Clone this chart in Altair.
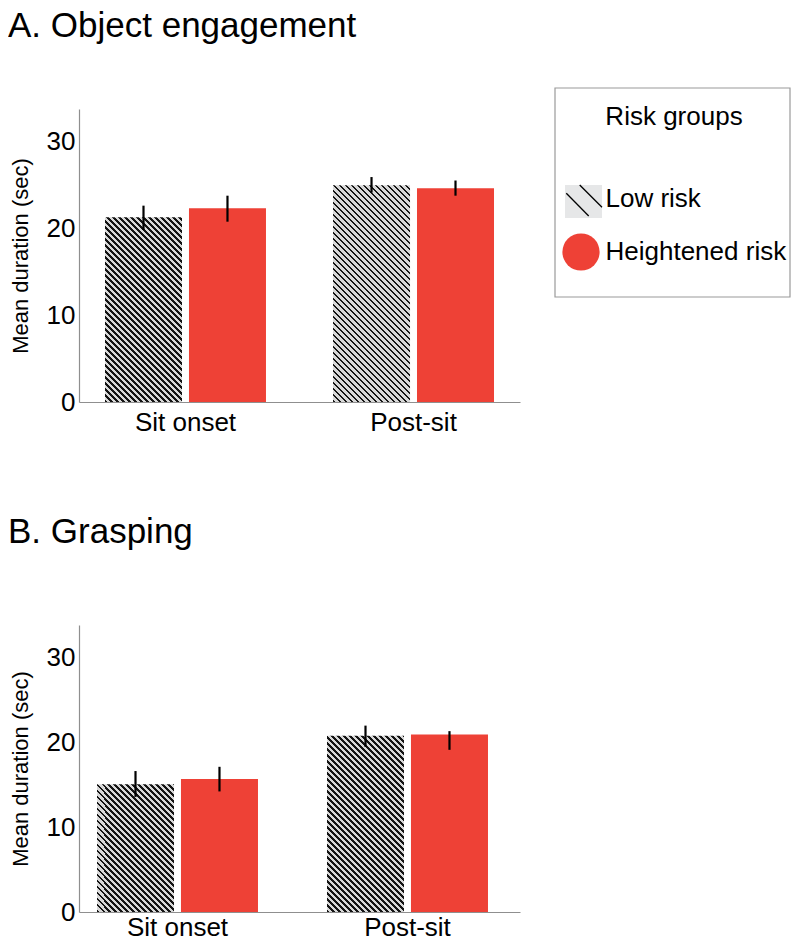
import altair as alt
import pandas as pd

# ---------------- data ----------------
phases = ["Sit onset", "Post-sit"]
groups = ["Low risk", "Heightened risk"]

# order of values: (Sit onset, Low), (Sit onset, Heightened), (Post-sit, Low), (Post-sit, Heightened)
a_mean = [21.3, 22.35, 25.0, 24.65]
a_lo = [19.85, 20.8, 24.15, 23.8]
a_hi = [22.65, 23.8, 25.95, 25.55]

b_mean = [15.05, 15.65, 20.75, 20.9]
b_lo = [13.55, 14.2, 19.45, 19.1]
b_hi = [16.6, 17.1, 21.95, 21.3]

y_ticks = [0, 10, 20, 30]
y_max = 33.8

titles = ["A. Object engagement", "B. Grasping"]
y_title = "Mean duration (sec)"
legend_title = "Risk groups"

# ---------------- style ----------------
FONT = "Liberation Sans"
RED = "#EE4136"
LIGHT = "#d8d8d8"
DARK = "#141414"
AXIS_GRAY = "#8f8f8f"
PLOT_W = 441


def rows(means, lo, hi):
    out = []
    i = 0
    for p in phases:
        for g in groups:
            out.append({"phase": p, "group": g, "mean": means[i], "lo": lo[i], "hi": hi[i]})
            i += 1
    return pd.DataFrame(out)


def bar_width(pi, po, pi2):
    step = PLOT_W / (2 - pi + 2 * po)
    bw = step * (1 - pi)
    step2 = bw / (2 - pi2)
    return step2 * (1 - pi2)


def hatch(W, H, period=6.0, dark=2.8):
    k = (W + H) / (W * W + H * H)
    span = W + H
    stops = []
    c = 0.0
    while c < span:
        a = c / span
        b = min((c + dark) / span, 1.0)
        stops.append({"offset": a, "color": DARK})
        stops.append({"offset": b, "color": DARK})
        if b < 1.0:
            e = min((c + period) / span, 1.0)
            stops.append({"offset": b, "color": LIGHT})
            stops.append({"offset": e, "color": LIGHT})
        c += period
    return {"gradient": "linear", "x1": 0, "y1": 1, "x2": k * W, "y2": 1 - k * H, "stops": stops}


def panel(title, means, lo, hi, pi, po, align, title_y, xlab_pad, plot_h, legend=False):
    df = rows(means, lo, hi)
    pi2 = 0.083
    W = bar_width(pi, po, pi2)
    xsc = alt.Scale(domain=phases, paddingInner=pi, paddingOuter=po, align=align)
    xax = alt.Axis(title=None, labelAngle=0, ticks=False, labelFontSize=26, labelPadding=xlab_pad,
                   labelColor="black", domainColor=AXIS_GRAY, domainWidth=1.2, grid=False)
    osc = alt.Scale(domain=groups, paddingInner=pi2, paddingOuter=0)
    ysc = alt.Scale(domain=[0, y_max], nice=False, zero=True)
    yax = alt.Axis(title=y_title, values=y_ticks, ticks=False, grid=False, labelFontSize=26,
                   labelPadding=4, labelColor="black", domainColor=AXIS_GRAY, domainWidth=1.2,
                   titleFontSize=22, titleFontWeight="normal", titleColor="black",
                   titleX=-59, titleY=plot_h / 2, titleBaseline="middle", titleAngle=-90)

    base = alt.Chart(df).encode(
        x=alt.X("phase:N", scale=xsc, axis=xax),
        xOffset=alt.XOffset("group:N", scale=osc),
        y=alt.Y("mean:Q", scale=ysc, axis=yax),
    )
    layers = [base.transform_filter(alt.datum.group == groups[1]).mark_bar(color=RED)]
    for i, p in enumerate(phases):
        H = means[i * 2] / y_max * plot_h
        layers.append(
            base.transform_filter((alt.datum.group == groups[0]) & (alt.datum.phase == p))
            .mark_bar(fill=hatch(W, H))
        )
    layers.append(
        base.mark_rule(color="black", strokeWidth=2.2).encode(
            y=alt.Y("lo:Q", scale=ysc, axis=yax), y2="hi:Q"
        )
    )
    tdf = pd.DataFrame({"t": [title]})
    layers.append(
        alt.Chart(tdf).mark_text(align="left", baseline="top", fontSize=35, font=FONT, color="black")
        .encode(text="t:N", x=alt.value(-71), y=alt.value(title_y))
    )
    if legend:
        lx = -3  # legend shift so the whole page stays 800 px wide
        one = pd.DataFrame({"t": [legend_title]})
        layers.append(
            alt.Chart(one).mark_rect(fill="white", stroke="#9a9a9a", strokeWidth=1.2)
            .encode(x=alt.value(476), x2=alt.value(711), y=alt.value(-21), y2=alt.value(188))
        )
        layers.append(
            alt.Chart(one).mark_text(align="center", baseline="alphabetic", fontSize=26, font=FONT, color="black")
            .encode(text="t:N", x=alt.value(598 + lx), y=alt.value(16))
        )
        layers.append(
            alt.Chart(one).mark_rect(fill="#e6e7e8")
            .encode(x=alt.value(489 + lx), x2=alt.value(526 + lx), y=alt.value(76), y2=alt.value(109))
        )
        for (x0, y0, x1, y1) in [(490.3, 84.3, 512.7, 107), (503.7, 76, 526, 98.3)]:
            layers.append(
                alt.Chart(one).mark_rule(color="black", strokeWidth=1.3)
                .encode(x=alt.value(x0 + lx), y=alt.value(y0), x2=alt.value(x1 + lx), y2=alt.value(y1))
            )
        layers.append(
            alt.Chart(one).mark_circle(color=RED, opacity=1, size=1385)
            .encode(x=alt.value(505 + lx), y=alt.value(143))
        )
        for g, yb in zip(groups, [97.7, 151]):
            gdf = pd.DataFrame({"g": [g]})
            layers.append(
                alt.Chart(gdf).mark_text(align="left", baseline="alphabetic", fontSize=26, font=FONT, color="black")
                .encode(text="g:N", x=alt.value(529.5 + lx), y=alt.value(yb))
            )
    return alt.layer(*layers).properties(width=PLOT_W, height=plot_h)


A = panel(titles[0], a_mean, a_lo, a_hi, 0.294, 0.114, 0.5, -100, 7, 293, legend=True)
B = panel(titles[1], b_mean, b_lo, b_hi, 0.30, 0.1087, 0.36, -110, 2, 287)

chart = (
    alt.vconcat(A, B, spacing=223, bounds="flush")
    .properties(padding={"left": 0, "top": 1, "right": 0, "bottom": 0})
    .configure(font=FONT)
    .configure_view(strokeWidth=0, stroke="transparent")
    .configure_axis(labelFont=FONT, titleFont=FONT)
)

chart.save("out.html", embed_options={"renderer": "svg", "actions": False})
